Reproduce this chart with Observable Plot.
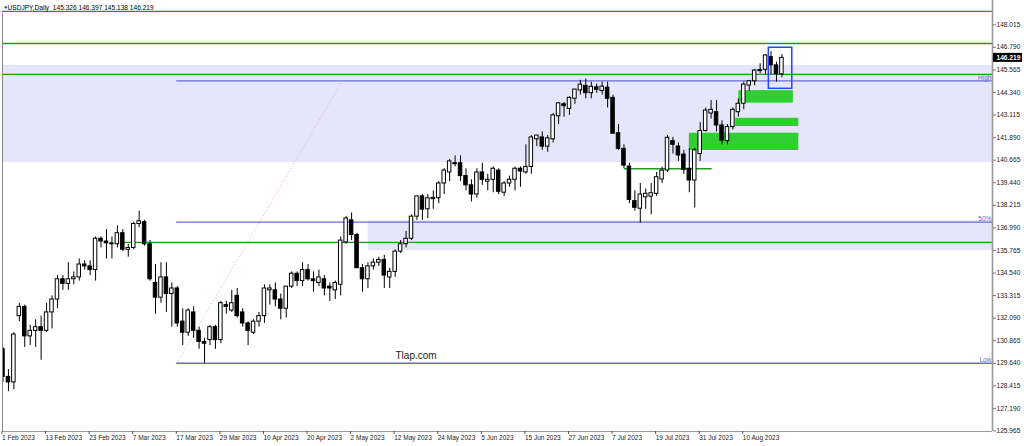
<!DOCTYPE html>
<html><head><meta charset="utf-8">
<script src="https://cdn.jsdelivr.net/npm/d3@7"></script>
<script src="https://cdn.jsdelivr.net/npm/@observablehq/plot@0.6"></script>
<style>
html,body{margin:0;padding:0;background:#fff;}
#chart{width:1024px;height:446px;overflow:hidden;}
</style></head><body><div id="chart"></div>
<script>
// ---- data (daily USDJPY bars, index 0 = 1 Feb 2023) ----
const open  = [130.40,128.90,128.60,132.20,132.70,131.10,131.40,131.60,131.40,132.40,133.10,134.20,133.95,134.20,134.30,135.00,134.90,134.70,136.40,136.25,136.10,136.10,136.70,135.80,135.90,137.20,137.30,136.10,134.00,133.20,134.30,133.40,133.70,131.90,131.30,132.40,131.40,130.80,130.90,131.60,130.90,132.80,132.50,133.30,132.40,131.80,131.30,131.90,132.20,133.60,133.60,133.10,132.60,133.80,134.50,134.10,134.70,134.20,134.00,134.20,133.80,133.60,133.90,136.20,137.40,136.60,134.80,134.20,134.90,135.10,135.25,134.30,134.60,135.70,136.10,136.40,137.60,138.70,138.00,138.55,138.60,139.40,140.00,140.50,140.50,139.80,139.30,138.80,140.00,139.50,139.60,140.10,138.90,139.40,139.60,140.20,140.00,140.30,141.80,141.90,141.40,141.80,143.05,143.70,143.45,144.00,144.45,144.70,144.30,144.62,144.42,144.60,144.05,142.13,141.28,140.32,138.44,138.03,138.65,138.69,138.84,139.62,140.10,141.70,141.41,140.97,140.20,139.56,141.00,142.25,143.20,143.27,142.55,141.70,142.46,143.27,143.73,144.72,144.95,145.50,145.57,146.26,145.81,145.326];
const high  = [130.50,129.30,131.30,132.90,132.80,131.70,132.00,132.20,132.90,133.30,134.40,134.40,135.10,134.60,135.30,135.20,135.20,136.50,136.50,136.90,136.50,137.10,136.90,136.10,137.30,137.90,137.40,136.30,135.00,135.10,135.10,134.00,133.80,132.60,132.60,132.70,131.60,131.00,131.70,131.70,133.00,133.00,133.60,133.70,132.60,131.90,132.00,132.40,133.90,133.90,134.00,133.40,133.80,134.60,134.60,135.10,135.00,134.60,134.70,134.40,134.00,134.10,136.50,137.60,137.80,136.70,135.00,135.10,135.30,135.40,135.50,134.80,135.80,136.30,136.80,137.70,138.70,138.80,138.80,139.00,139.50,140.20,140.70,140.90,140.90,140.20,139.60,140.20,140.50,139.90,140.30,140.20,139.50,139.80,140.30,140.30,141.50,142.00,142.00,142.20,142.00,143.20,143.80,143.80,144.10,144.50,145.00,145.07,144.90,144.80,144.90,144.90,144.20,142.60,141.50,140.50,139.00,139.40,139.10,139.40,140.00,140.30,142.00,141.90,141.60,141.20,141.30,141.30,142.70,143.50,143.90,143.90,142.80,142.60,143.50,144.00,144.90,145.00,145.60,145.90,146.40,146.56,145.99,146.397];
const low   = [128.60,128.10,128.20,131.90,130.50,130.60,130.50,129.80,131.30,131.50,132.60,133.60,133.60,133.90,134.10,134.70,134.40,134.10,135.90,135.30,135.30,135.90,135.70,135.40,135.80,137.00,136.00,134.10,132.30,132.90,132.40,131.60,131.60,130.60,131.10,131.00,130.40,129.64,130.60,130.40,130.70,132.30,132.40,132.10,131.60,130.60,131.20,131.60,131.80,132.80,132.70,132.00,132.10,133.70,133.80,133.80,134.10,133.50,133.80,133.30,133.00,133.10,133.30,136.10,136.30,134.80,133.50,133.70,134.70,134.90,133.70,133.70,134.30,135.60,135.90,136.30,137.40,137.40,137.50,138.00,138.30,138.80,139.50,140.30,139.50,139.00,138.40,138.60,139.30,139.00,138.90,138.80,138.70,139.20,139.00,139.20,139.90,139.90,141.40,141.20,141.10,141.60,142.60,143.00,143.10,143.70,144.20,144.00,144.00,144.30,144.20,143.50,142.10,141.20,140.20,138.30,137.90,137.24,138.00,137.70,138.70,139.40,140.00,141.00,140.60,139.90,138.90,138.07,140.60,142.20,142.90,142.20,141.50,141.50,142.30,143.00,143.40,144.40,144.70,145.35,145.30,145.30,144.90,145.138];
const close = [128.90,128.60,131.20,132.70,131.10,131.40,131.60,131.40,132.40,133.10,134.20,133.95,134.20,134.30,135.00,134.90,134.70,136.40,136.25,136.15,136.15,136.70,135.80,135.90,137.20,137.35,136.10,134.20,133.20,134.30,133.40,133.70,131.80,131.30,132.50,131.40,130.80,130.70,131.60,130.90,132.90,132.70,132.90,132.20,131.80,131.40,131.90,132.20,133.70,133.70,133.10,132.60,133.80,134.50,134.10,134.70,134.20,134.10,134.30,133.70,133.70,134.00,136.30,137.50,136.60,134.80,134.20,134.90,135.10,135.25,134.40,134.60,135.70,136.10,136.40,137.60,138.70,137.98,138.60,138.62,139.40,140.10,140.60,140.45,139.80,139.30,138.80,140.00,139.60,139.60,140.20,138.95,139.40,139.60,140.20,140.05,140.30,141.90,142.00,141.40,141.85,143.10,143.75,143.60,144.05,144.50,144.77,144.30,144.65,144.48,144.66,144.00,142.10,141.28,140.37,138.51,138.08,138.80,138.84,138.87,139.74,140.10,141.88,141.50,140.92,140.14,139.56,141.20,142.25,143.36,143.40,142.55,141.73,142.46,143.40,143.73,144.77,144.95,145.53,145.56,146.35,145.81,145.35,146.219];

const tickLabels = ["1 Feb 2023","13 Feb 2023","23 Feb 2023","7 Mar 2023","17 Mar 2023","29 Mar 2023","10 Apr 2023","20 Apr 2023","2 May 2023","12 May 2023","24 May 2023","5 Jun 2023","15 Jun 2023","27 Jun 2023","7 Jul 2023","19 Jul 2023","31 Jul 2023","10 Aug 2023"];
const tickEvery = 8;
const yTicks = [148.015,146.790,145.565,144.340,143.115,141.890,140.665,139.440,138.215,136.990,135.765,134.540,133.315,132.090,130.865,129.640,128.415,127.190,125.965];

// chart objects (price levels / zones, anchored in bar index & price)
const hLinesFull = [148.74, 147.00, 145.32];          // green horizontal lines
const hLineRay   = {from: 22.1, price: 136.20};        // green ray
const hLineShort = {from: 114.1, to: 130.2, price: 140.20};
const zones = [
  {x1: -1, x2: 200, y1: 140.54, y2: 145.81},
  {x1: 67.05, x2: 200, y1: 135.76, y2: 137.38}
];
const greenBoxes = [
  {x1: 135.1, x2: 145.1, y1: 143.76, y2: 144.44},
  {x1: 134.5, x2: 146.1, y1: 142.49, y2: 142.94},
  {x1: 126.0, x2: 146.1, y1: 141.19, y2: 142.13}
];
const blueBox = [{x1: 140.6, x2: 144.9, y1: 144.54, y2: 146.77}];
const fibStart = 31.9;
const fibHigh = 144.97, fibLow = 129.64;
const fibLevels = [
  {name: "High", value: fibHigh},
  {name: "50%", value: (fibHigh + fibLow) / 2},
  {name: "Low", value: fibLow}
];
const fibDiag = [{x1: fibStart, y1: fibLow, x2: 62.3, y2: fibHigh}];
const title = "USDJPY,Daily  145.326 146.397 145.138 146.219";
const watermark = {text: "Tlap.com", x: 72.06, y: 130.06};

// ---- build ----
const candles = open.map((o, i) => ({i, o, h: high[i], l: low[i], c: close[i]}));
const xMin = -0.09, xMax = 181.66;
const yMin = 125.936, yMax = 149.334;
const lastClose = close[close.length - 1];
const tickIdx = tickLabels.map((_, k) => k * tickEvery);
const fibColor = "#6b6bcf";
const green = "#1f9a1f";

const chart = Plot.plot({
  width: 1024, height: 446,
  marginLeft: 2, marginRight: 32, marginTop: 0, marginBottom: 15,
  x: {type: "linear", domain: [xMin, xMax]},
  y: {type: "linear", domain: [yMin, yMax]},
  style: {fontFamily: "'Liberation Sans', Arial, sans-serif", fontSize: "6.6px", background: "#fff", overflow: "visible"},
  marks: [
    Plot.rect(zones, {x1: "x1", x2: "x2", y1: "y1", y2: "y2", fill: "#e6e6fa", clip: true}),
    Plot.rect(greenBoxes, {x1: "x1", x2: "x2", y1: "y1", y2: "y2", fill: "#32cd32", clip: true}),
    Plot.ruleY(hLinesFull, {stroke: green, strokeWidth: 1.3}),
    Plot.ruleY([hLineRay], {y: "price", x1: d => d.from, x2: () => xMax, stroke: green, strokeWidth: 1.3}),
    Plot.ruleY([hLineShort], {y: "price", x1: "from", x2: "to", stroke: green, strokeWidth: 1.3}),
    Plot.link(fibDiag, {x1: "x1", y1: "y1", x2: "x2", y2: "y2", stroke: "#f3a6b6", strokeDasharray: "1,2", strokeWidth: 1}),
    Plot.ruleY(fibLevels, {y: "value", x1: () => fibStart, x2: () => xMax, stroke: fibColor, strokeWidth: 1.3}),
    Plot.text(fibLevels, {x: () => xMax, y: "value", text: "name", textAnchor: "end", lineAnchor: "bottom", dx: -1, dy: -1, fill: fibColor, fontSize: 6.6}),
    // candles
    Plot.ruleX(candles, {x: "i", y1: "l", y2: "h", stroke: "#000", strokeWidth: 1, clip: true}),
    Plot.rect(candles, {x1: d => d.i - 0.32, x2: d => d.i + 0.32, y1: "o", y2: "c",
      fill: d => d.c >= d.o ? "#fff" : "#000", stroke: "#000", strokeWidth: 1, clip: true}),
    Plot.rect(blueBox, {x1: "x1", x2: "x2", y1: "y1", y2: "y2", fill: "none", stroke: "#2846f5", strokeWidth: 1.5}),
    Plot.text([watermark], {x: "x", y: "y", text: "text", textAnchor: "start", fontSize: 10, fill: "#222"}),
    // title
    Plot.text(["\u25BC"], {frameAnchor: "top-left", dx: 1, dy: 5, lineAnchor: "top", fontSize: 4.5, fill: "#000"}),
    Plot.text([title], {frameAnchor: "top-left", dx: 5, dy: 4.5, lineAnchor: "top", textAnchor: "start", fontSize: 6.6, fill: "#000"}),
    // frame
    Plot.ruleX([xMin], {stroke: "#888", strokeWidth: 1, y1: () => yMin, y2: () => 148.62}),
    Plot.ruleX([xMax], {stroke: "#999", strokeWidth: 1.6}),
    Plot.ruleY([yMin], {stroke: "#999", strokeWidth: 1.2}),
    // axes
    Plot.axisY({anchor: "right", ticks: yTicks, tickFormat: d3.format(".3f"), tickSize: 3, tickPadding: 1, label: null, fontSize: 6.6, fill: "#222", stroke: "#777"}),
    Plot.axisX({anchor: "bottom", ticks: tickIdx, tickFormat: i => tickLabels[i / tickEvery], textAnchor: "start", tickSize: 3, tickPadding: 1, label: null, fontSize: 6.5, fill: "#222", stroke: "#555", dx: -1}),
    // current price label
    Plot.rect([lastClose], {x1: () => xMax, x2: () => xMax, y1: d => d, y2: d => d, insetLeft: 1, insetRight: -30, insetTop: -4.5, insetBottom: -4.5, fill: "#000"}),
    Plot.text([lastClose], {x: () => xMax, y: d => d, text: d => d3.format(".3f")(d), textAnchor: "start", dx: 4, fill: "#fff", fontSize: 6.6, fontWeight: "bold"})
  ]
});
document.getElementById("chart").appendChild(chart);
</script>
</body></html>
